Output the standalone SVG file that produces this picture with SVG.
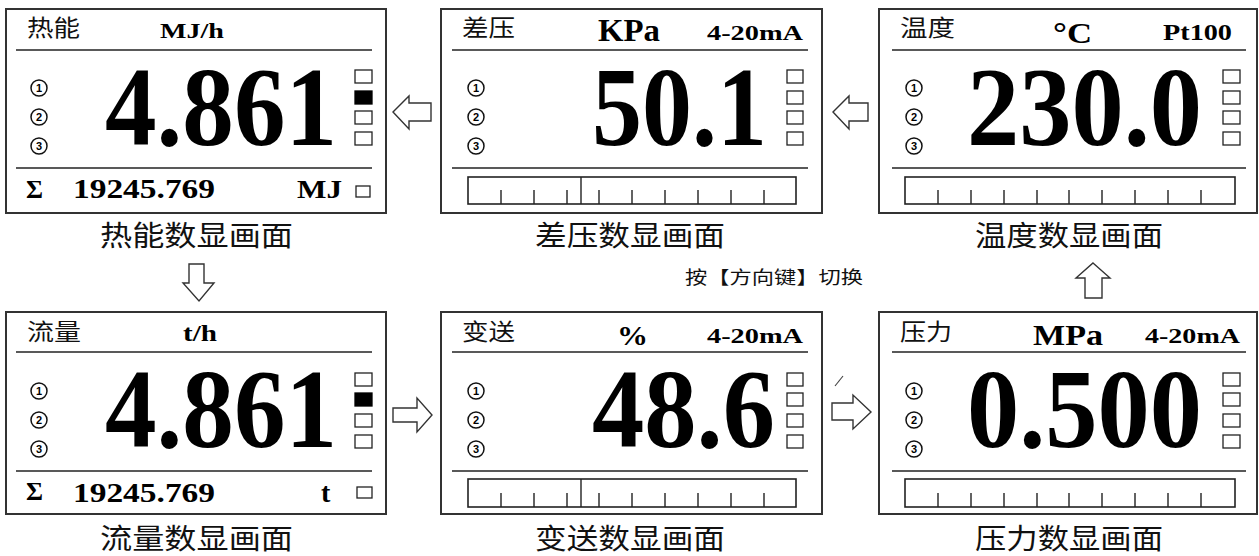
<svg xmlns="http://www.w3.org/2000/svg" width="1259" height="556" viewBox="0 0 1259 556">
<style>
.frame{fill:#fff;stroke:#333;stroke-width:2}
.sep{stroke:#222;stroke-width:1.6}
.bar{fill:none;stroke:#222;stroke-width:1.6}
.tick{stroke:#222;stroke-width:1.4}
.sq{fill:#fff;stroke:#222;stroke-width:1.3}
.sqf{fill:#000;stroke:#000;stroke-width:1.3}
.cir{fill:none;stroke:#111;stroke-width:1.5}
.cn{font-family:"Liberation Sans",Arial,sans-serif;font-size:11px;font-weight:bold;text-anchor:middle;fill:#000}
.cjk{font-family:"Noto Sans CJK SC","Noto Sans",sans-serif;fill:#111}
.hd{font-size:23px}
.lbl{font-size:28px}
.sr{font-family:"Liberation Serif","Times New Roman",serif;font-weight:bold;fill:#000}
.big{font-size:112px}
.arrow{fill:#fff;stroke:#333;stroke-width:1.4;stroke-linejoin:miter}
</style>

<!-- Panel 1: 热能 -->
<g id="panel-heat">
<rect class="frame" x="6" y="9" width="380" height="204"/>
<line class="sep" x1="16" y1="50" x2="372" y2="50"/>
<line class="sep" x1="16" y1="168" x2="372" y2="168"/>
<text class="cjk hd" x="27" y="36" textLength="53" lengthAdjust="spacingAndGlyphs">热能</text>
<text class="sr" x="160" y="38" font-size="22" textLength="64" lengthAdjust="spacingAndGlyphs">MJ/h</text>
<circle class="cir" cx="39" cy="88" r="8"/><text class="cn" x="39" y="92">1</text>
<circle class="cir" cx="39" cy="117" r="8"/><text class="cn" x="39" y="121">2</text>
<circle class="cir" cx="39" cy="146" r="8"/><text class="cn" x="39" y="150">3</text>
<text class="sr big" x="105" y="145" textLength="232" lengthAdjust="spacingAndGlyphs">4.861</text>
<rect class="sq" x="355" y="70" width="17" height="13"/>
<rect class="sqf" x="355" y="91" width="17" height="13"/>
<rect class="sq" x="355" y="111" width="17" height="13"/>
<rect class="sq" x="355" y="132" width="17" height="13"/>
<text class="sr" x="26" y="198" font-size="26">Σ</text>
<text class="sr" x="73" y="198" font-size="27" textLength="142" lengthAdjust="spacingAndGlyphs">19245.769</text>
<text class="sr" x="297" y="198" font-size="25" textLength="45" lengthAdjust="spacingAndGlyphs">MJ</text>
<rect class="sq" x="356" y="186" width="14" height="11"/>
<text class="cjk lbl" x="100" y="246" textLength="193" lengthAdjust="spacingAndGlyphs">热能数显画面</text>
</g>

<!-- Panel 2: 差压 -->
<g id="panel-dp">
<rect class="frame" x="441" y="9" width="381" height="204"/>
<line class="sep" x1="452" y1="50" x2="808" y2="50"/>
<line class="sep" x1="452" y1="168" x2="808" y2="168"/>
<text class="cjk hd" x="462" y="36" textLength="53" lengthAdjust="spacingAndGlyphs">差压</text>
<text class="sr" x="598" y="41" font-size="31" textLength="62" lengthAdjust="spacingAndGlyphs">KPa</text>
<text class="sr" x="707" y="40" font-size="21" textLength="96" lengthAdjust="spacingAndGlyphs">4-20mA</text>
<circle class="cir" cx="476" cy="88" r="8"/><text class="cn" x="476" y="92">1</text>
<circle class="cir" cx="476" cy="117" r="8"/><text class="cn" x="476" y="121">2</text>
<circle class="cir" cx="476" cy="146" r="8"/><text class="cn" x="476" y="150">3</text>
<text class="sr big" x="592" y="145" textLength="175" lengthAdjust="spacingAndGlyphs">50.1</text>
<rect class="sq" x="787" y="70" width="16" height="13"/>
<rect class="sq" x="787" y="91" width="16" height="13"/>
<rect class="sq" x="787" y="111" width="16" height="13"/>
<rect class="sq" x="787" y="132" width="16" height="13"/>
<rect class="bar" x="468" y="177" width="328" height="27"/>
<line class="tick" x1="581" y1="177" x2="581" y2="204"/>
<path class="tick" d="M501 190V204M534 190V204M567 190V204M599 190V204M632 190V204M665 190V204M698 190V204M731 190V204M764 190V204"/>
<text class="cjk lbl" x="535" y="246" textLength="190" lengthAdjust="spacingAndGlyphs">差压数显画面</text>
</g>

<!-- Panel 3: 温度 -->
<g id="panel-temp">
<rect class="frame" x="879" y="9" width="378" height="204"/>
<line class="sep" x1="892" y1="50" x2="1246" y2="50"/>
<line class="sep" x1="892" y1="168" x2="1246" y2="168"/>
<text class="cjk hd" x="900" y="36" textLength="55" lengthAdjust="spacingAndGlyphs">温度</text>
<text class="sr" x="1053" y="43" font-size="29" textLength="39" lengthAdjust="spacingAndGlyphs">°C</text>
<text class="sr" x="1163" y="40" font-size="23" textLength="69" lengthAdjust="spacingAndGlyphs">Pt100</text>
<circle class="cir" cx="914" cy="88" r="8"/><text class="cn" x="914" y="92">1</text>
<circle class="cir" cx="914" cy="117" r="8"/><text class="cn" x="914" y="121">2</text>
<circle class="cir" cx="914" cy="146" r="8"/><text class="cn" x="914" y="150">3</text>
<text class="sr big" x="967" y="145" textLength="235" lengthAdjust="spacingAndGlyphs">230.0</text>
<rect class="sq" x="1223" y="70" width="17" height="13"/>
<rect class="sq" x="1223" y="91" width="17" height="13"/>
<rect class="sq" x="1223" y="111" width="17" height="13"/>
<rect class="sq" x="1223" y="132" width="17" height="13"/>
<rect class="bar" x="905" y="177" width="330" height="27"/>
<path class="tick" d="M938 190V204M971 190V204M1004 190V204M1037 190V204M1069 190V204M1102 190V204M1135 190V204M1168 190V204M1201 190V204"/>
<text class="cjk lbl" x="975" y="246" textLength="188" lengthAdjust="spacingAndGlyphs">温度数显画面</text>
</g>

<!-- Panel 4: 流量 -->
<g id="panel-flow">
<rect class="frame" x="6" y="312" width="380" height="202"/>
<line class="sep" x1="16" y1="352" x2="372" y2="352"/>
<line class="sep" x1="16" y1="471" x2="372" y2="471"/>
<text class="cjk hd" x="27" y="340" textLength="54" lengthAdjust="spacingAndGlyphs">流量</text>
<text class="sr" x="183" y="341" font-size="23" textLength="34" lengthAdjust="spacingAndGlyphs">t/h</text>
<circle class="cir" cx="39" cy="391" r="8"/><text class="cn" x="39" y="395">1</text>
<circle class="cir" cx="39" cy="420" r="8"/><text class="cn" x="39" y="424">2</text>
<circle class="cir" cx="39" cy="449" r="8"/><text class="cn" x="39" y="453">3</text>
<text class="sr big" x="105" y="447" textLength="232" lengthAdjust="spacingAndGlyphs">4.861</text>
<rect class="sq" x="355" y="373" width="17" height="13"/>
<rect class="sqf" x="355" y="393" width="17" height="13"/>
<rect class="sq" x="355" y="414" width="17" height="13"/>
<rect class="sq" x="355" y="435" width="17" height="13"/>
<text class="sr" x="26" y="500" font-size="26">Σ</text>
<text class="sr" x="73" y="502" font-size="27" textLength="142" lengthAdjust="spacingAndGlyphs">19245.769</text>
<text class="sr" x="321" y="502" font-size="28">t</text>
<rect class="sq" x="357" y="487" width="15" height="11"/>
<text class="cjk lbl" x="100" y="549" textLength="193" lengthAdjust="spacingAndGlyphs">流量数显画面</text>
</g>

<!-- Panel 5: 变送 -->
<g id="panel-trans">
<rect class="frame" x="441" y="312" width="381" height="202"/>
<line class="sep" x1="452" y1="352" x2="808" y2="352"/>
<line class="sep" x1="452" y1="471" x2="808" y2="471"/>
<text class="cjk hd" x="462" y="340" textLength="53" lengthAdjust="spacingAndGlyphs">变送</text>
<text class="sr" x="617" y="345" font-size="28" textLength="31" lengthAdjust="spacingAndGlyphs">%</text>
<text class="sr" x="707" y="343" font-size="21" textLength="96" lengthAdjust="spacingAndGlyphs">4-20mA</text>
<circle class="cir" cx="476" cy="391" r="8"/><text class="cn" x="476" y="395">1</text>
<circle class="cir" cx="476" cy="420" r="8"/><text class="cn" x="476" y="424">2</text>
<circle class="cir" cx="476" cy="449" r="8"/><text class="cn" x="476" y="453">3</text>
<text class="sr big" x="592" y="447" textLength="183" lengthAdjust="spacingAndGlyphs">48.6</text>
<rect class="sq" x="787" y="373" width="16" height="13"/>
<rect class="sq" x="787" y="393" width="16" height="13"/>
<rect class="sq" x="787" y="414" width="16" height="13"/>
<rect class="sq" x="787" y="435" width="16" height="13"/>
<rect class="bar" x="468" y="479" width="328" height="28"/>
<line class="tick" x1="581" y1="479" x2="581" y2="507"/>
<path class="tick" d="M501 493V507M534 493V507M567 493V507M599 493V507M632 493V507M665 493V507M698 493V507M731 493V507M764 493V507"/>
<text class="cjk lbl" x="535" y="549" textLength="190" lengthAdjust="spacingAndGlyphs">变送数显画面</text>
</g>

<!-- Panel 6: 压力 -->
<g id="panel-press">
<rect class="frame" x="879" y="312" width="378" height="202"/>
<line class="sep" x1="892" y1="352" x2="1246" y2="352"/>
<line class="sep" x1="892" y1="471" x2="1246" y2="471"/>
<text class="cjk hd" x="900" y="340" textLength="52" lengthAdjust="spacingAndGlyphs">压力</text>
<text class="sr" x="1033" y="345" font-size="30" textLength="70" lengthAdjust="spacingAndGlyphs">MPa</text>
<text class="sr" x="1145" y="343" font-size="21" textLength="95" lengthAdjust="spacingAndGlyphs">4-20mA</text>
<circle class="cir" cx="914" cy="391" r="8"/><text class="cn" x="914" y="395">1</text>
<circle class="cir" cx="914" cy="420" r="8"/><text class="cn" x="914" y="424">2</text>
<circle class="cir" cx="914" cy="449" r="8"/><text class="cn" x="914" y="453">3</text>
<text class="sr big" x="967" y="447" textLength="235" lengthAdjust="spacingAndGlyphs">0.500</text>
<rect class="sq" x="1223" y="373" width="17" height="13"/>
<rect class="sq" x="1223" y="393" width="17" height="13"/>
<rect class="sq" x="1223" y="414" width="17" height="13"/>
<rect class="sq" x="1223" y="435" width="17" height="13"/>
<rect class="bar" x="905" y="479" width="330" height="28"/>
<path class="tick" d="M938 493V507M971 493V507M1004 493V507M1037 493V507M1069 493V507M1102 493V507M1135 493V507M1168 493V507M1201 493V507"/>
<text class="cjk lbl" x="975" y="549" textLength="188" lengthAdjust="spacingAndGlyphs">压力数显画面</text>
</g>

<!-- Connectors -->
<g id="connectors">
<polygon class="arrow" points="393,112 409,96 409,103 431,103 431,121 409,121 409,129"/>
<polygon class="arrow" points="833,112 849,96 849,103 868,103 868,121 849,121 849,129"/>
<polygon class="arrow" points="189,264 204,264 204,283 214,283 199,301 183,283 189,283"/>
<polygon class="arrow" points="1093,263 1110,278 1102,278 1102,298 1085,298 1085,278 1076,278"/>
<polygon class="arrow" points="393,408 417,408 417,398 432,415 417,432 417,422 393,422"/>
<polygon class="arrow" points="832,403 853,403 853,395 871,412 853,429 853,420 832,420"/>
<line x1="835" y1="386" x2="843" y2="376" stroke="#444" stroke-width="1.2"/>
</g>

<text class="cjk" x="685" y="284" font-size="18" textLength="178" lengthAdjust="spacingAndGlyphs">按【方向键】切换</text>
</svg>
